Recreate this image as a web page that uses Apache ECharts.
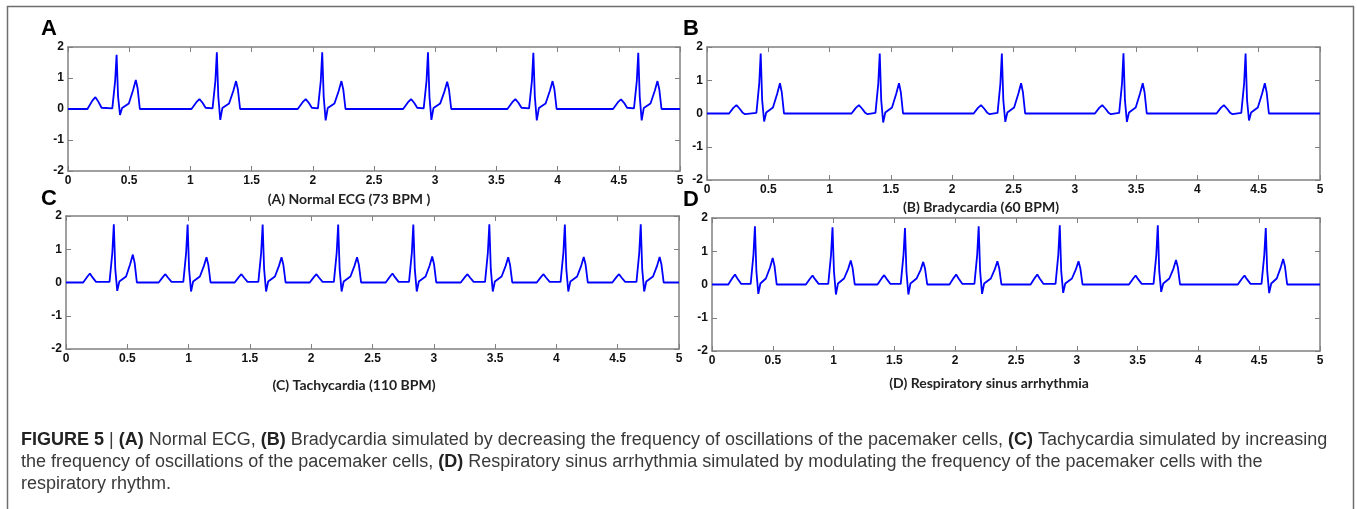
<!DOCTYPE html>
<html><head><meta charset="utf-8">
<script src="https://cdn.jsdelivr.net/npm/echarts@6/dist/echarts.min.js"></script>
<style>html,body{margin:0;padding:0;background:#fff}#c{width:1357px;height:509px}</style>
</head><body><div id="c"></div>
<script>
// ---- data: [time (s), amplitude] ----
const ecgA = [
 [0,0],
 [0.159,0],[0.199,0.27],[0.224,0.38],[0.249,0.23],[0.274,0.04],[0.362,0.02],[0.385,0.9],[0.397,1.75],[0.409,0.4],[0.425,-0.19],[0.442,0.03],[0.497,0.18],[0.532,0.61],[0.554,0.94],[0.569,0.66],[0.587,0],
 [1.009,0],[1.049,0.22],[1.074,0.32],[1.099,0.2],[1.124,0.04],[1.181,0.02],[1.204,0.9],[1.216,1.83],[1.228,0.4],[1.244,-0.35],[1.261,0.03],[1.316,0.18],[1.351,0.59],[1.373,0.90],[1.388,0.63],[1.406,0],
 [1.877,0],[1.917,0.22],[1.942,0.32],[1.967,0.2],[1.992,0.04],[2.042,0.02],[2.065,0.9],[2.077,1.83],[2.089,0.4],[2.105,-0.37],[2.122,0.03],[2.177,0.18],[2.212,0.59],[2.234,0.90],[2.249,0.63],[2.267,0],
 [2.738,0],[2.778,0.22],[2.803,0.32],[2.828,0.2],[2.853,0.04],[2.906,0.02],[2.929,0.9],[2.941,1.83],[2.953,0.4],[2.969,-0.35],[2.986,0.03],[3.041,0.18],[3.076,0.57],[3.098,0.88],[3.113,0.62],[3.131,0],
 [3.590,0],[3.630,0.22],[3.655,0.32],[3.680,0.2],[3.705,0.04],[3.767,0.02],[3.790,0.9],[3.802,1.81],[3.814,0.4],[3.830,-0.37],[3.847,0.03],[3.902,0.18],[3.937,0.59],[3.959,0.90],[3.974,0.63],[3.992,0],
 [4.453,0],[4.493,0.22],[4.518,0.31],[4.543,0.2],[4.568,0.04],[4.624,0.02],[4.647,0.9],[4.659,1.81],[4.671,0.4],[4.687,-0.37],[4.704,0.03],[4.759,0.18],[4.794,0.59],[4.816,0.90],[4.831,0.63],[4.849,0],
 [5,0]
];
const ecgB = [
 [0,0],
 [0.180,0],[0.215,0.17],[0.240,0.25],[0.265,0.15],[0.292,0.02],[0.310,-0.02],[0.403,0.02],[0.426,0.9],[0.438,1.80],[0.450,0.4],[0.466,-0.24],[0.483,0.03],[0.538,0.18],[0.573,0.6],[0.595,0.91],[0.610,0.64],[0.628,0],
 [1.179,0],[1.214,0.17],[1.239,0.25],[1.264,0.15],[1.291,0.02],[1.309,-0.02],[1.374,0.02],[1.397,0.9],[1.409,1.80],[1.421,0.4],[1.437,-0.27],[1.454,0.03],[1.509,0.18],[1.544,0.6],[1.566,0.91],[1.581,0.64],[1.599,0],
 [2.175,0],[2.210,0.17],[2.235,0.25],[2.260,0.15],[2.287,0.02],[2.305,-0.02],[2.370,0.02],[2.393,0.9],[2.405,1.80],[2.417,0.4],[2.433,-0.25],[2.450,0.03],[2.505,0.18],[2.540,0.6],[2.562,0.91],[2.577,0.64],[2.595,0],
 [3.164,0],[3.199,0.17],[3.224,0.25],[3.249,0.15],[3.276,0.02],[3.294,-0.02],[3.362,0.02],[3.385,0.9],[3.397,1.81],[3.409,0.4],[3.425,-0.25],[3.442,0.03],[3.497,0.18],[3.532,0.6],[3.554,0.91],[3.569,0.64],[3.587,0],
 [4.156,0],[4.191,0.17],[4.216,0.25],[4.241,0.15],[4.268,0.02],[4.286,-0.02],[4.358,0.02],[4.381,0.9],[4.393,1.80],[4.405,0.4],[4.421,-0.21],[4.438,0.03],[4.493,0.18],[4.528,0.6],[4.550,0.91],[4.565,0.64],[4.583,0],
 [5,0]
];
const ecgC = [
 [0,0],
 [0.140,0],[0.175,0.18],[0.195,0.27],[0.215,0.16],[0.245,0.02],[0.355,0.02],[0.378,0.9],[0.390,1.75],[0.402,0.4],[0.418,-0.25],[0.435,0.03],[0.490,0.18],[0.523,0.55],[0.545,0.84],[0.560,0.59],[0.578,0],
 [0.756,0],[0.791,0.17],[0.811,0.25],[0.831,0.15],[0.861,0.02],[0.957,0.02],[0.980,0.9],[0.992,1.74],[1.004,0.4],[1.020,-0.27],[1.037,0.03],[1.092,0.18],[1.125,0.5],[1.146,0.76],[1.161,0.53],[1.179,0],
 [1.376,0],[1.411,0.17],[1.431,0.25],[1.451,0.15],[1.481,0.02],[1.569,0.02],[1.592,0.9],[1.604,1.74],[1.616,0.4],[1.632,-0.27],[1.649,0.03],[1.704,0.18],[1.737,0.5],[1.758,0.76],[1.773,0.53],[1.791,0],
 [1.988,0],[2.023,0.17],[2.043,0.25],[2.063,0.15],[2.093,0.02],[2.185,0.02],[2.208,0.9],[2.220,1.74],[2.232,0.4],[2.248,-0.27],[2.265,0.03],[2.320,0.18],[2.353,0.5],[2.374,0.76],[2.389,0.53],[2.407,0],
 [2.608,0],[2.643,0.18],[2.663,0.27],[2.683,0.16],[2.713,0.02],[2.798,0.02],[2.821,0.9],[2.833,1.74],[2.845,0.4],[2.861,-0.27],[2.878,0.03],[2.933,0.18],[2.966,0.51],[2.987,0.78],[3.002,0.55],[3.020,0],
 [3.220,0],[3.255,0.17],[3.275,0.25],[3.295,0.15],[3.325,0.02],[3.418,0.02],[3.441,0.9],[3.453,1.75],[3.465,0.4],[3.481,-0.27],[3.498,0.03],[3.553,0.18],[3.586,0.5],[3.607,0.76],[3.622,0.53],[3.640,0],
 [3.840,0],[3.875,0.17],[3.895,0.25],[3.915,0.15],[3.945,0.02],[4.034,0.02],[4.057,0.9],[4.069,1.74],[4.081,0.4],[4.097,-0.27],[4.114,0.03],[4.169,0.18],[4.202,0.5],[4.223,0.77],[4.238,0.54],[4.256,0],
 [4.456,0],[4.491,0.17],[4.511,0.25],[4.531,0.15],[4.561,0.02],[4.653,0.02],[4.676,0.9],[4.688,1.75],[4.700,0.4],[4.716,-0.27],[4.733,0.03],[4.788,0.18],[4.821,0.5],[4.842,0.77],[4.857,0.54],[4.875,0],
 [5,0]
];
const ecgD = [
 [0,0],
 [0.134,0],[0.169,0.2],[0.189,0.30],[0.209,0.18],[0.239,0.02],[0.318,0.02],[0.341,0.9],[0.353,1.75],[0.365,0.4],[0.381,-0.28],[0.398,0.03],[0.443,0.18],[0.478,0.52],[0.499,0.80],[0.514,0.56],[0.532,0],
 [0.772,0],[0.807,0.18],[0.827,0.27],[0.847,0.16],[0.877,0.02],[0.956,0.02],[0.979,0.9],[0.991,1.72],[1.003,0.4],[1.019,-0.30],[1.036,0.03],[1.086,0.18],[1.120,0.47],[1.141,0.72],[1.156,0.5],[1.174,0],
 [1.361,0],[1.396,0.19],[1.416,0.28],[1.436,0.17],[1.466,0.02],[1.552,0.02],[1.575,0.9],[1.587,1.70],[1.599,0.4],[1.615,-0.30],[1.632,0.03],[1.682,0.18],[1.716,0.44],[1.737,0.68],[1.752,0.48],[1.770,0],
 [1.953,0],[1.988,0.2],[2.008,0.30],[2.028,0.18],[2.058,0.02],[2.158,0.02],[2.181,0.9],[2.193,1.75],[2.205,0.4],[2.221,-0.28],[2.238,0.03],[2.293,0.18],[2.326,0.46],[2.347,0.70],[2.362,0.49],[2.380,0],
 [2.620,0],[2.655,0.2],[2.675,0.30],[2.695,0.18],[2.725,0.02],[2.825,0.02],[2.848,0.9],[2.860,1.78],[2.872,0.4],[2.888,-0.25],[2.905,0.03],[2.960,0.18],[2.993,0.46],[3.014,0.70],[3.029,0.49],[3.047,0],
 [3.429,0],[3.464,0.18],[3.484,0.27],[3.504,0.16],[3.534,0.02],[3.631,0.02],[3.654,0.9],[3.666,1.78],[3.678,0.4],[3.694,-0.22],[3.711,0.03],[3.761,0.18],[3.795,0.48],[3.816,0.74],[3.831,0.52],[3.849,0],
 [4.324,0],[4.359,0.18],[4.379,0.27],[4.399,0.16],[4.429,0.02],[4.519,0.02],[4.542,0.9],[4.554,1.70],[4.566,0.4],[4.582,-0.26],[4.599,0.03],[4.644,0.18],[4.676,0.5],[4.697,0.77],[4.712,0.54],[4.730,0],
 [5,0]
];
const panelLetters = ['A','B','C','D'];
const panelTitles = ['(A) Normal ECG (73 BPM )','(B) Bradycardia (60 BPM)','(C) Tachycardia (110 BPM)','(D) Respiratory sinus arrhythmia'];
const xRange = [0, 5];      // seconds
const yRange = [-2, 2];
const captionLines = [
 '{b|FIGURE 5} | {b|(A)} Normal ECG, {b|(B)} Bradycardia simulated by decreasing the frequency of oscillations of the pacemaker cells, {b|(C)} Tachycardia simulated by increasing',
 'the frequency of oscillations of the pacemaker cells, {b|(D)} Respiratory sinus arrhythmia simulated by modulating the frequency of the pacemaker cells with the',
 'respiratory rhythm.'
];

// ---- layout ----
const grids = [
 {left:68, top:47, width:612, height:124},
 {left:707, top:47, width:613, height:133},
 {left:66, top:216, width:613, height:133},
 {left:712, top:218, width:608, height:133}
];
const titlePos = [[349,199],[981,207],[354,385],[989,383]];
const letterPos = [[41,29],[683,29],[41,199],[683,200]];
const seriesData = [ecgA, ecgB, ecgC, ecgD];

const axisColor = '#808080';
const tickFont = {fontFamily:'Liberation Sans, Arial, sans-serif', fontWeight:'bold', fontSize:12, color:'#111'};
const xAxes = [], yAxes = [], series = [];
grids.forEach((g, i) => {
  const common = {
    axisLine:{show:true, onZero:false, lineStyle:{color:axisColor, width:1.5}},
    axisTick:{show:true, inside:true, length:5, lineStyle:{color:axisColor, width:1}},
    splitLine:{show:false}
  };
  xAxes.push(Object.assign({type:'value', gridIndex:i, position:'bottom', min:xRange[0], max:xRange[1], interval:0.5,
    axisLabel:Object.assign({margin:4}, tickFont)}, common));
  xAxes.push(Object.assign({type:'value', gridIndex:i, position:'top', min:xRange[0], max:xRange[1], interval:0.5,
    axisLabel:{show:false}}, common));
  yAxes.push(Object.assign({type:'value', gridIndex:i, position:'left', min:yRange[0], max:yRange[1], interval:1,
    axisLabel:Object.assign({margin:4}, tickFont)}, common));
  yAxes.push(Object.assign({type:'value', gridIndex:i, position:'right', min:yRange[0], max:yRange[1], interval:1,
    axisLabel:{show:false}}, common));
  series.push({type:'line', xAxisIndex:2*i, yAxisIndex:2*i, data:seriesData[i], showSymbol:false, symbol:'none',
    lineStyle:{color:'#0000ff', width:1.8}, animation:false, z:1});
});

const graphics = [
  {type:'rect', shape:{x:7.5, y:6.5, width:1346, height:540}, style:{fill:'none', stroke:'#6e6e6e', lineWidth:1.5}, silent:true}
];
panelLetters.forEach((L, i) => {
  graphics.push({type:'text', x:letterPos[i][0], y:letterPos[i][1],
    style:{text:L, fontFamily:'Liberation Sans, Arial, sans-serif', fontWeight:'bold', fontSize:22, fill:'#000',
      align:'left', verticalAlign:'middle', textAlign:'left', textVerticalAlign:'middle'}});
});
panelTitles.forEach((t, i) => {
  graphics.push({type:'text', x:titlePos[i][0], y:titlePos[i][1],
    style:{text:t, fontFamily:'Lato, Open Sans, sans-serif', fontWeight:'bold', fontSize:14, fill:'#222',
      align:'center', verticalAlign:'middle', textAlign:'center', textVerticalAlign:'middle'}});
});
const capY = [440, 462, 484];
captionLines.forEach((t, i) => {
  graphics.push({type:'text', x:21, y:capY[i],
    style:{text:t, fontFamily:'Liberation Sans, Arial, sans-serif', fontSize:18, fill:'#3a3a3a',
      align:'left', verticalAlign:'middle', textAlign:'left', textVerticalAlign:'middle',
      rich:{b:{fontFamily:'Liberation Sans, Arial, sans-serif', fontSize:18, fontWeight:'bold', fill:'#222'}}}});
});

const chart = echarts.init(document.getElementById('c'), null, {renderer:'canvas'});
chart.setOption({
  animation:false,
  backgroundColor:'#fff',
  grid: grids.map(g => Object.assign({containLabel:false}, g)),
  xAxis: xAxes,
  yAxis: yAxes,
  series: series,
  graphic: {elements: graphics}
});
</script></body></html>
